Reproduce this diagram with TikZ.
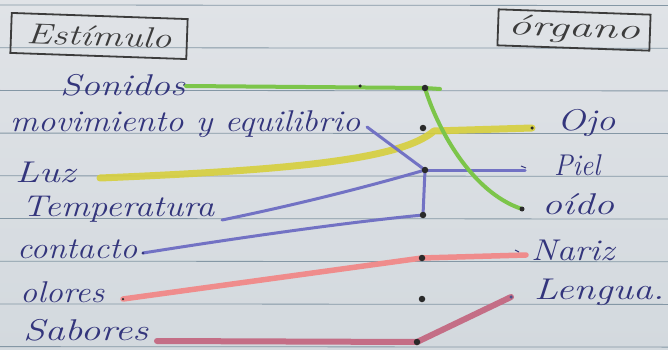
\documentclass[tikz,border=0pt]{standalone}
\usepackage{graphicx}
\definecolor{paperA}{HTML}{E0E3E7}
\definecolor{paperB}{HTML}{D3D9DE}
\definecolor{ruleC}{HTML}{8497A5}
\definecolor{ink}{HTML}{33357C}
\definecolor{pencil}{HTML}{3C3C3C}
\definecolor{hlgreen}{HTML}{7CC54A}
\definecolor{hlyellow}{HTML}{D6CF3C}
\definecolor{hlblue}{HTML}{7272C4}
\definecolor{hlred}{HTML}{EF8C8C}
\definecolor{hlwine}{HTML}{C46E86}
\definecolor{dotC}{HTML}{2A2A2A}
\newcommand{\hwtext}[2]{\resizebox{#1}{\height}{#2}}
\tikzset{
  rule/.style={draw=ruleC, line width=0.8pt},
  lbl/.style={inner sep=0pt, text=ink, font=\fontsize{30}{33}\selectfont\itshape},
  titlebox/.style={draw=pencil, line width=1.8pt, inner sep=0pt, text=pencil,
    font=\fontsize{29}{32}\selectfont\itshape},
  gline/.style={draw=hlgreen, line width=4pt, line cap=round, line join=round},
  yline/.style={draw=hlyellow, line width=7pt, line cap=round, line join=round, opacity=0.9},
  bline/.style={draw=hlblue, line width=3pt, line cap=round, line join=round},
  rline/.style={draw=hlred, line width=5.5pt, line cap=round, line join=round},
  wline/.style={draw=hlwine, line width=6pt, line cap=round, line join=round},
  mdot/.style={circle, fill=dotC, inner sep=0pt, minimum size=6.5pt},
  sdot/.style={circle, fill=dotC, inner sep=0pt, minimum size=3.5pt},
}
\begin{document}
\begin{tikzpicture}[x=1pt,y=-1pt]
\shade[top color=paperA, bottom color=paperB] (0,0) rectangle (668,350);
\useasboundingbox (0,0) rectangle (668,350);
% ruled lines
\foreach \k in {0,...,8} {
  \draw[rule] (0,{5+42.7*\k}) -- (668,{5.5+42.7*\k});
}
% titles
\node[titlebox, minimum width=176pt, minimum height=40pt, rotate=-2] (est) at (99,36) {\hwtext{145pt}{Estímulo}};
\node[titlebox, minimum width=152pt, minimum height=36pt, rotate=-2] (org) at (574,30) {\hwtext{132pt}{órgano}};
% left labels
\node[lbl, anchor=west] (son) at (60,85) {\hwtext{125pt}{Sonidos}};
\node[lbl, anchor=west] (mov) at (10,124) {\hwtext{350pt}{movimiento y equilibrio}};
\node[lbl, anchor=west] (luz) at (15,172) {\hwtext{60pt}{Luz}};
\node[lbl, anchor=west] (tem) at (22,209) {\hwtext{192pt}{Temperatura}};
\node[lbl, anchor=west] (con) at (17,249) {\hwtext{120pt}{contacto}};
\node[lbl, anchor=west] (olo) at (20,292) {\hwtext{84pt}{olores}};
\node[lbl, anchor=west] (sab) at (23,330) {\hwtext{125pt}{Sabores}};
% right labels
\node[lbl, anchor=west] (ojo) at (557,123) {\hwtext{58pt}{Ojo}};
\node[lbl, anchor=west] (pie) at (554,165) {\hwtext{46pt}{Piel}};
\node[lbl, anchor=west] (oid) at (542,204) {\hwtext{72pt}{oído}};
\node[lbl, anchor=west] (nar) at (531,250) {\hwtext{83pt}{Nariz}};
\node[lbl, anchor=west] (len) at (534,292) {\hwtext{130pt}{Lengua.}};
% connector ends
\coordinate (sonE) at (186,86);
\coordinate (sonD) at (360,86);
\coordinate (gx) at (440,89);
\coordinate (movE) at (367,127);
\coordinate (luzE) at (100,178);
\coordinate (yb) at (434,131);
\coordinate (temE) at (222,220);
\coordinate (conE) at (143,253);
\coordinate (olE) at (123,299);
\coordinate (sabE) at (157,341);
\coordinate (ojoE) at (532,128);
\coordinate (pielE) at (525,170);
\coordinate (oidoE) at (522,209);
\coordinate (narE) at (526,255);
\coordinate (lenE) at (511,297);
% middle dots (positions)
\coordinate (p1) at (425,88);
\coordinate (p2) at (423,128);
\coordinate (p3) at (425,170);
\coordinate (p4) at (423,215);
\coordinate (p5) at (422,258);
\coordinate (p6) at (422,299);
\coordinate (p7) at (417,342);
% yellow
\draw[yline] (luzE) .. controls (290,170) and (400,160) .. (yb) -- (ojoE);
% blue
\draw[bline] (movE) -- (p3);
\draw[bline] (temE) .. controls (300,204) and (370,186) .. (p3);
\draw[bline] (p3) -- (p4);
\draw[bline] (conE) .. controls (250,236) and (350,222) .. (p4);
\draw[bline] (p3) -- (pielE);
% red
\draw[rline] (olE) -- (p5) -- (narE);
\draw[wline] (sabE) -- (p7) -- (lenE);
% green
\draw[gline] (sonE) -- (p1) -- (gx);
\draw[gline] (p1) .. controls (436,125) and (470,192) .. (oidoE);
% dots
\foreach \p in {1,...,7} { \node[mdot] (m\p) at (p\p) {}; }
\node[sdot] (dsonD) at (sonD) {};
\node[sdot] (dojo) at (ojoE) {};
\node[sdot, minimum size=5pt] (doido) at (oidoE) {};
\node[sdot, fill=hlblue!70!black] (dlen) at (lenE) {};
\node[sdot, minimum size=2.5pt] (dol) at (olE) {};
\node[sdot, minimum size=3pt, fill=ink] (dcon) at (conE) {};
\draw[ink, line width=1pt] (515,250) -- (519,252);
\draw[ink, line width=1pt] (521,166) -- (526,168);
\end{tikzpicture}
\end{document}
